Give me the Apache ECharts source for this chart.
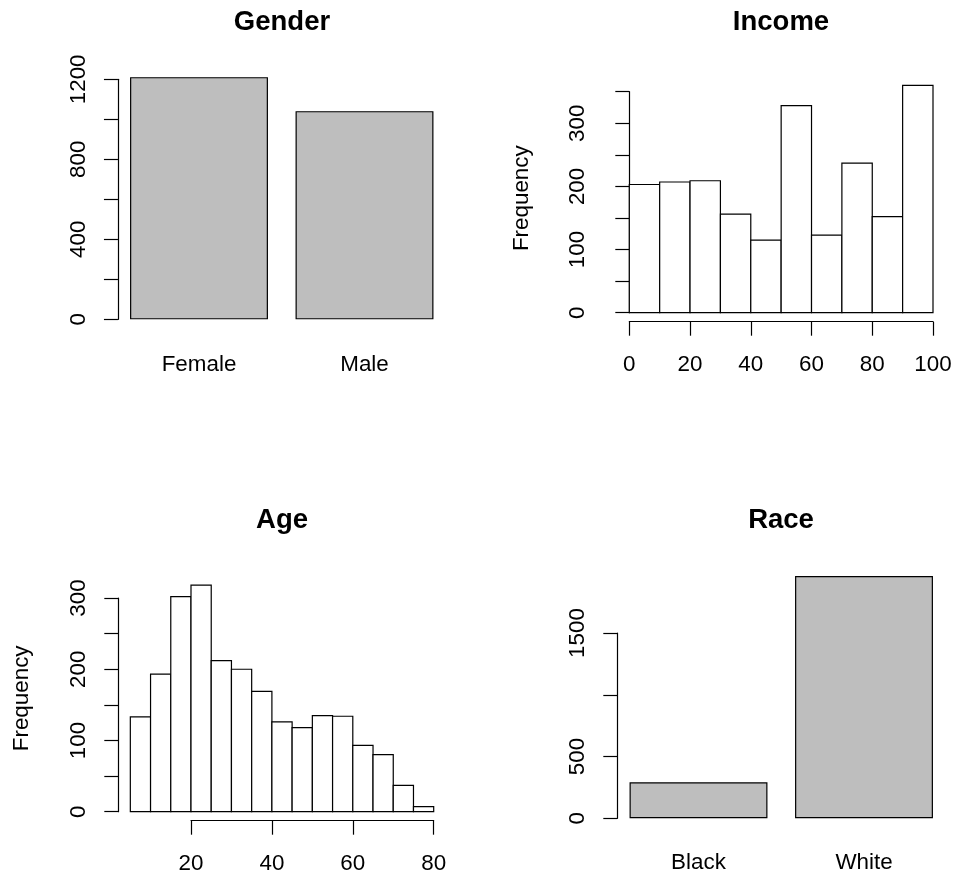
<!DOCTYPE html>
<html>
<head>
<meta charset="utf-8">
<script src="https://cdn.jsdelivr.net/npm/echarts@6/dist/echarts.min.js"></script>
<style>
  html, body { margin: 0; padding: 0; background: #fff; }
  #chart { width: 958px; height: 880px; }
</style>
</head>
<body>
<div id="chart"></div>
<script>
// ---- data ----
var genderCategories = ['Female', 'Male'];
var genderCounts = [1211, 1041];

var incomeBreaks = [0, 10, 20, 30, 40, 50, 60, 70, 80, 90, 100];
var incomeCounts = [203, 207, 209, 156, 115, 328, 123, 237, 152, 360];

var ageBreaks = [5, 10, 15, 20, 25, 30, 35, 40, 45, 50, 55, 60, 65, 70, 75, 80];
var ageCounts = [133, 193, 302, 318, 212, 200, 169, 126, 118, 135, 134, 93, 80, 37, 7];

var raceCategories = ['Black', 'White'];
var raceCounts = [291, 1961];

var panelTitles = ['Gender', 'Income', 'Age', 'Race'];
var yAxisName = 'Frequency';

// ---- helpers ----
function histData(breaks, counts) {
  var out = [];
  for (var i = 0; i < counts.length; i++) out.push([breaks[i], breaks[i + 1], counts[i]]);
  return out;
}
function renderHist(params, api) {
  var p0 = api.coord([api.value(0), api.value(2)]);
  var p1 = api.coord([api.value(1), 0]);
  return {
    type: 'rect',
    shape: { x: p0[0], y: p0[1], width: p1[0] - p0[0], height: p1[1] - p0[1] },
    style: { fill: '#ffffff', stroke: '#000000', lineWidth: 1.2 }
  };
}

var FONT = '"Liberation Sans", Arial, Helvetica, sans-serif';
var BASE = 22.4;
var TITLE = 27.5;
var lineStyle = { color: '#000', width: 1.2 };

function yAxisCfg(gridIndex, min, max, interval, labelEvery, offset, name, nameGap, namePad) {
  return {
    type: 'value', gridIndex: gridIndex, min: min, max: max, interval: interval,
    offset: offset,
    splitLine: { show: false },
    axisLine: { show: true, lineStyle: lineStyle },
    axisTick: { show: true, length: 14, lineStyle: lineStyle },
    axisLabel: {
      rotate: 90, margin: 28, color: '#000', fontSize: BASE, fontFamily: FONT,
      formatter: function (v) { return (v % labelEvery === 0) ? String(v) : ''; }
    },
    name: name || '', nameLocation: 'middle', nameRotate: 90, nameGap: nameGap || 0,
    nameTextStyle: { color: '#000', fontSize: BASE, fontFamily: FONT, padding: namePad || 0 }
  };
}

var option = {
  backgroundColor: '#ffffff',
  animation: false,
  title: [
    { text: panelTitles[0], left: 282, top: 8.5 },
    { text: panelTitles[1], left: 781, top: 8.5 },
    { text: panelTitles[2], left: 282, top: 506.5 },
    { text: panelTitles[3], left: 781, top: 506.5 }
  ].map(function (t) {
    t.textAlign = 'center'; t.padding = 0;
    t.textStyle = { fontSize: TITLE, fontWeight: 'bold', color: '#000', fontFamily: FONT, lineHeight: TITLE };
    return t;
  }),
  grid: [
    { left: 116.25, top: 79.33, width: 331, height: 240, outerBoundsMode: 'none', containLabel: false },   // Gender
    { left: 629.3, top: 91.7, width: 303.7, height: 221, outerBoundsMode: 'none', containLabel: false },   // Income
    { left: 191, top: 598, width: 242.7, height: 213.7, outerBoundsMode: 'none', containLabel: false },    // Age
    { left: 615.75, top: 633, width: 331, height: 185.3, outerBoundsMode: 'none', containLabel: false }    // Race
  ],
  xAxis: [
    { type: 'category', gridIndex: 0, data: genderCategories,
      axisLine: { show: false }, axisTick: { show: false }, splitLine: { show: false },
      axisLabel: { margin: 34, color: '#000', fontSize: BASE, fontFamily: FONT } },
    { type: 'value', gridIndex: 1, min: 0, max: 100, interval: 20, offset: 9,
      splitLine: { show: false },
      axisLine: { show: true, onZero: false, lineStyle: lineStyle },
      axisTick: { show: true, length: 14, lineStyle: lineStyle },
      axisLabel: { margin: 32, color: '#000', fontSize: BASE, fontFamily: FONT, showMinLabel: true, showMaxLabel: true } },
    { type: 'value', gridIndex: 2, min: 20, max: 80, interval: 20, offset: 9,
      splitLine: { show: false },
      axisLine: { show: true, onZero: false, lineStyle: lineStyle },
      axisTick: { show: true, length: 14, lineStyle: lineStyle },
      axisLabel: { margin: 32, color: '#000', fontSize: BASE, fontFamily: FONT, showMinLabel: true, showMaxLabel: true } },
    { type: 'category', gridIndex: 3, data: raceCategories,
      axisLine: { show: false }, axisTick: { show: false }, splitLine: { show: false },
      axisLabel: { margin: 34, color: '#000', fontSize: BASE, fontFamily: FONT } }
  ],
  yAxis: [
    yAxisCfg(0, 0, 1200, 200, 400, -1.7),
    yAxisCfg(1, 0, 350, 50, 100, 12, yAxisName, 84.5, [0, 0, 0, 8]),
    yAxisCfg(2, 0, 300, 50, 100, 72.7, yAxisName, 85.5, [0, 0, 0, 13]),
    yAxisCfg(3, 0, 1500, 500, 500, -1.55)
  ],
  series: [
    { type: 'bar', xAxisIndex: 0, yAxisIndex: 0, data: genderCounts, barWidth: '83.333%', clip: false,
      itemStyle: { color: '#bebebe', borderColor: '#000', borderWidth: 1.2 } },
    { type: 'custom', xAxisIndex: 1, yAxisIndex: 1, data: histData(incomeBreaks, incomeCounts),
      renderItem: renderHist, clip: false },
    { type: 'custom', xAxisIndex: 2, yAxisIndex: 2, data: histData(ageBreaks, ageCounts),
      renderItem: renderHist, clip: false },
    { type: 'bar', xAxisIndex: 3, yAxisIndex: 3, data: raceCounts, barWidth: '83.333%', clip: false,
      itemStyle: { color: '#bebebe', borderColor: '#000', borderWidth: 1.2 } }
  ]
};

// Race y axis: label 1000 is omitted in the reference
option.yAxis[3].axisLabel.formatter = function (v) { return v === 1000 ? '' : String(v); };

var chart = echarts.init(document.getElementById('chart'), null, { renderer: 'canvas' });
chart.setOption(option);
</script>
</body>
</html>
